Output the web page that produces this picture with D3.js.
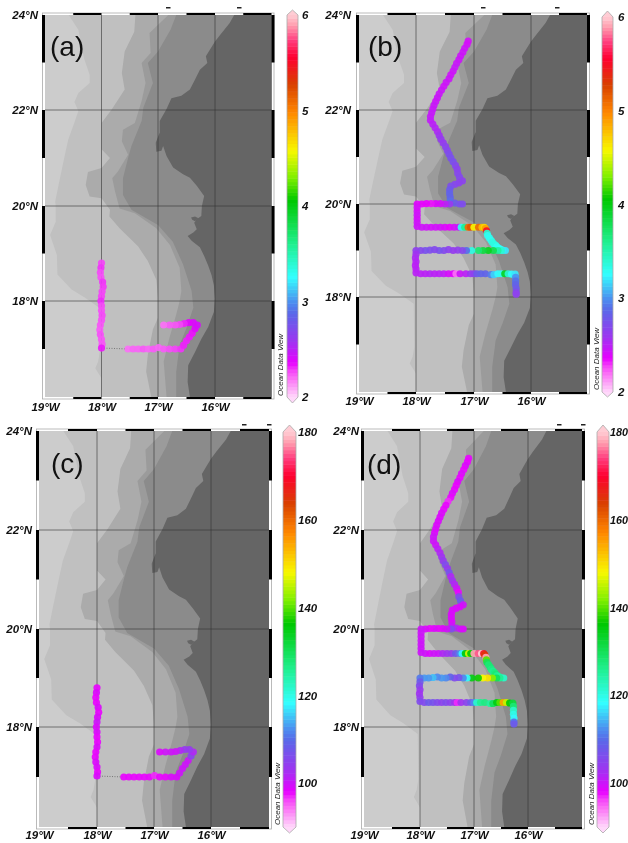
<!DOCTYPE html>
<html>
<head>
<meta charset="utf-8">
<script src="https://cdn.jsdelivr.net/npm/d3@7"></script>
<style>
  body { margin: 0; background: #fff; }
  svg { display: block; filter: blur(0.35px); }
  text { font-family: "Liberation Sans", Arial, sans-serif; }
  .tick text { font-weight: bold; font-style: italic; font-size: 11.5px; fill: #111; }
  .tight .tick text { font-size: 10.8px; }
</style>
</head>
<body>
<script>
var contour1 = [[-18.58,24],[-18.41,23.69],[-18.31,23.09],[-18.21,22.74],[-18.21,22.57],[-18.41,22.36],[-18.48,22.17],[-18.41,21.98],[-18.47,21.77],[-18.59,21.38],[-18.66,21],[-18.76,20.44],[-18.82,20.09],[-18.81,20],[-18.81,19.67],[-18.91,19.39],[-18.79,18.97],[-18.78,18.56],[-18.53,18.24],[-18.29,18.07],[-18.04,17.86],[-18.03,16.95],[-18.06,16.74],[-18.11,16.6],[-18,16.39],[-18,16]];
var contour2 = [[-17.4,24],[-17.42,23.65],[-17.59,23.23],[-17.64,22.78],[-17.59,22.43],[-17.82,22.01],[-18,21.73],[-18,21.18],[-17.85,21],[-18,20.79],[-18.24,20.71],[-18.28,20.44],[-18.21,20.2],[-18,20.16],[-17.85,19.92],[-17.86,19.78],[-17.68,19.53],[-17.35,19.15],[-17.18,18.84],[-17.03,18.45],[-17,18.07],[-17,17.65],[-17.09,17.41],[-17.18,16.88],[-17.21,16.53],[-17.12,16]];
var contour3 = [[-16.82,24],[-17.15,23.62],[-17.13,23.2],[-17.29,22.99],[-17.22,22.57],[-17.29,22.19],[-17.41,21.73],[-17.62,21.59],[-17.64,21.35],[-17.53,21.07],[-17.71,20.72],[-17.81,20.58],[-17.76,20.3],[-17.68,19.95],[-17.41,19.85],[-17.03,19.53],[-16.79,19.18],[-16.62,18.7],[-16.59,18.21],[-16.62,18],[-16.68,17.72],[-16.8,17.23],[-16.9,16.74],[-16.85,16]];
var contour4 = [[-16.68,24],[-16.78,23.69],[-17,23.23],[-17.18,22.99],[-17.09,22.57],[-17.26,22.05],[-17.29,21.77],[-17.47,21.25],[-17.53,21],[-17.62,20.58],[-17.62,20.23],[-17.47,19.92],[-17,19.6],[-16.74,19.25],[-16.56,18.77],[-16.41,18.21],[-16.38,17.86],[-16.5,17.44],[-16.62,17.09],[-16.68,16.53],[-16.68,16]];
var coast = [[-15.66,24],[-15.74,23.83],[-15.91,23.58],[-16,23.44],[-16.09,23.27],[-16.16,23.13],[-16.135,22.99],[-16.265,22.85],[-16.35,22.64],[-16.44,22.43],[-16.59,22.3],[-16.765,22.25],[-16.85,22.02],[-16.97,21.77],[-16.97,21.53],[-17.04,21.32],[-17.03,21.13],[-16.94,21.15],[-16.91,21.25],[-16.85,21.04],[-16.735,20.8],[-16.56,20.66],[-16.44,20.59],[-16.32,20.42],[-16.19,20.21],[-16.23,20],[-16.24,19.79],[-16.32,19.72],[-16.365,19.65],[-16.32,19.51],[-16.38,19.44],[-16.48,19.37],[-16.41,19.27],[-16.265,19.13],[-16.19,18.95],[-16.12,18.75],[-16.06,18.54],[-16.02,18.33],[-16,18.05],[-16.02,17.77],[-16.12,17.46],[-16.24,17.21],[-16.35,16.94],[-16.47,16.66],[-16.48,16.31],[-16.44,16]];
var island = [[-16.42,19.76],[-16.35,19.78],[-16.29,19.74],[-16.35,19.68],[-16.4,19.71]];
var seaGreys = ["#c0c0c0", "#ababab", "#9b9b9b", "#8b8b8b"];
var baseGrey = "#cccccc", landGrey = "#656565";

// southern cruise: lon, lat, value (a), value (c)
var southTrack = [
  [-18,18.8,2.28,98],[-18.01,18.7,2.3,99],[-18.02,18.6,2.27,98],[-18.01,18.5,2.26,98],[-17.98,18.4,2.3,99],
  [-17.97,18.3,2.29,98],[-17.99,18.2,2.28,99],[-18,18.1,2.28,100],[-18.01,18,2.31,99],[-18,17.9,2.27,99],
  [-18,17.8,2.26,98],[-17.99,17.7,2.27,98],[-18,17.6,2.26,99],[-18.02,17.5,2.25,98],[-18.03,17.4,2.24,98],
  [-18.02,17.3,2.26,99],[-18,17.2,2.25,99],[-17.99,17.1,2.25,98],[-18,17.02,2.33,99],
  [-17.53,17,2.2,98],[-17.44,17,2.22,98],[-17.35,17,2.22,98],[-17.26,17,2.24,98],[-17.17,17,2.22,98],
  [-17.08,17,2.24,98],[-16.99,17.03,2.22,97],[-16.9,17,2.24,98],[-16.8,17,2.26,98],[-16.7,17,2.28,99],[-16.6,17,2.3,99],
  [-16.55,17.08,2.32,100],[-16.5,17.17,2.32,100],[-16.45,17.25,2.33,100],[-16.4,17.33,2.34,100],[-16.35,17.42,2.38,105],[-16.31,17.5,2.42,102],
  [-16.38,17.55,2.4,104],[-16.46,17.55,2.38,104],[-16.54,17.53,2.32,102],[-16.62,17.51,2.28,100],[-16.7,17.5,2.25,100],[-16.8,17.5,2.24,100],[-16.9,17.5,2.2,99]
];
var southGap = [[-18,17.02],[-17.75,17.01],[-17.53,17]];

// northern cruise: lon, lat, value (b), value (d)
var northTrack = [
  [-17.1,23.45,2.42,98],[-17.12,23.38,2.42,98],[-17.16,23.3,2.44,99],[-17.19,23.22,2.45,98],[-17.23,23.14,2.45,99],[-17.26,23.06,2.45,98],
  [-17.3,22.98,2.46,99],[-17.33,22.9,2.47,98],[-17.36,22.82,2.45,98],[-17.4,22.74,2.44,99],[-17.43,22.66,2.45,98],[-17.48,22.58,2.45,97],
  [-17.52,22.5,2.44,98],[-17.56,22.42,2.45,98],[-17.6,22.34,2.46,99],[-17.63,22.26,2.46,99],[-17.66,22.18,2.45,99],[-17.69,22.1,2.46,99],
  [-17.71,22.02,2.46,99],[-17.73,21.94,2.47,99],[-17.75,21.86,2.47,100],[-17.75,21.78,2.48,100],[-17.71,21.7,2.5,100],[-17.67,21.62,2.52,101],
  [-17.63,21.54,2.54,102],[-17.6,21.46,2.58,103],[-17.57,21.38,2.62,104],[-17.53,21.3,2.62,106],[-17.49,21.22,2.66,104],[-17.46,21.14,2.68,107],
  [-17.43,21.06,2.72,102],[-17.4,20.98,2.74,103],[-17.36,20.9,2.74,102],[-17.32,20.82,2.7,100],[-17.29,20.74,2.66,98],[-17.28,20.65,2.68,106],
  [-17.25,20.57,2.7,108],[-17.2,20.49,2.66,100],[-17.26,20.45,2.66,99],[-17.33,20.42,2.68,99],[-17.4,20.38,2.72,99],[-17.42,20.3,2.8,99],
  [-17.42,20.22,2.85,99],[-17.41,20.14,2.85,99],[-17.41,20.06,2.9,100],
  [-17.33,20.02,2.8,102],[-17.25,20,2.75,100],[-17.2,20,2.72,99],
  [-17.42,20,2.6,106],[-17.5,20,2.5,100],[-17.58,20.01,2.42,99],[-17.66,20.01,2.4,98],[-17.74,20.01,2.34,99],[-17.82,20.01,2.36,98],[-17.9,20,2.36,99],[-17.98,20,2.38,100],
  [-17.98,19.92,2.42,100],[-17.98,19.84,2.42,100],[-17.98,19.76,2.44,100],[-17.98,19.68,2.42,100],[-17.98,19.6,2.44,100],[-17.98,19.52,2.44,100],
  [-17.9,19.5,2.44,100],[-17.82,19.5,2.44,99],[-17.74,19.5,2.42,100],[-17.66,19.5,2.43,100],[-17.58,19.5,2.42,102],[-17.5,19.5,2.4,103],
  [-17.42,19.5,2.36,104],[-17.34,19.5,2.42,108],[-17.26,19.5,2.45,112],[-17.22,19.5,3.3,118],[-17.16,19.5,3.6,136],[-17.1,19.5,5.1,146],
  [-17.06,19.5,5.2,136],[-17,19.5,4.6,178],[-16.92,19.5,5.1,175],[-16.86,19.5,4.8,180],[-16.82,19.5,4.7,168],[-16.8,19.47,4.9,165],
  [-16.78,19.42,5.5,178],[-16.77,19.37,3.4,140],[-16.76,19.32,3.3,130],[-16.73,19.27,3.3,128],[-16.7,19.22,3.3,128],[-16.68,19.18,3.35,127],
  [-16.65,19.14,3.35,126],[-16.62,19.11,3.35,127],[-16.6,19.08,3.3,128],[-16.57,19.05,3.3,126],[-16.54,19.03,3.25,125],[-16.5,19.01,3.25,124],[-16.45,19,3.2,122],
  [-16.52,19,3.4,126],[-16.58,19,3.55,130],[-16.66,19,3.8,142],[-16.75,19,3.95,150],[-16.84,19,3.85,148],[-16.92,19,3.7,137],
  [-17.04,19,3.35,135],[-17.13,19,2.9,118],[-17.2,19,2.7,112],[-17.28,19.01,2.65,107],[-17.36,19,2.62,106],[-17.44,19.02,2.65,109],
  [-17.52,19,2.7,112],[-17.6,19,2.75,113],[-17.68,19.02,2.7,112],[-17.76,19.01,2.72,115],[-17.84,19,2.75,113],[-17.92,19,2.7,113],[-18,19,2.65,111],
  [-18,18.92,2.58,108],[-18.01,18.84,2.55,106],[-18,18.76,2.52,104],[-18.01,18.68,2.5,103],[-18,18.6,2.5,104],[-18,18.52,2.5,106],
  [-17.92,18.5,2.5,106],[-17.84,18.5,2.5,108],[-17.76,18.5,2.52,107],[-17.68,18.5,2.5,106],[-17.6,18.5,2.5,105],[-17.52,18.5,2.48,106],
  [-17.44,18.5,2.42,105],[-17.36,18.5,2.38,103],[-17.31,18.5,2.2,97],[-17.24,18.5,2.45,103],[-17.14,18.5,2.5,105],[-17.06,18.5,2.6,108],
  [-17,18.5,2.65,112],[-16.95,18.5,2.8,122],[-16.88,18.5,2.85,126],[-16.8,18.5,2.85,127],[-16.7,18.48,2.95,125],[-16.65,18.48,3.15,130],
  [-16.58,18.5,3.25,135],[-16.52,18.5,3.3,140],[-16.46,18.5,3.95,155],[-16.4,18.5,3.4,145],[-16.34,18.49,3.25,136],[-16.28,18.49,3.2,132],
  [-16.27,18.42,3,128],[-16.27,18.34,2.9,122],[-16.27,18.26,2.85,120],[-16.26,18.18,2.8,118],[-16.26,18.1,2.7,110],[-16.26,18.06,2.65,108]
];

// Ocean Data View rainbow, position along the bar and colour
var rampStops = [0, 0.05, 0.07, 0.09, 0.15, 0.22, 0.25, 0.315, 0.4, 0.515, 0.575, 0.645, 0.745, 0.82, 0.89, 0.935, 0.975, 1];
var rampColors = ["#ffd8fa", "#fb70f6", "#f444f8", "#e800ff", "#9a38f0", "#5a68e8", "#4c90f0", "#33ffff", "#20f090", "#00c800", "#80f000", "#f8f800", "#ff8800", "#d84000", "#ff0030", "#ff4080", "#ffa0b0", "#ffccd4"];
var ramp = d3.scaleLinear().domain(rampStops).range(rampColors);

var latTicks = [18, 20, 22, 24];
var lonTicks = [-19, -18, -17, -16];
var oxygenTicks = [2, 3, 4, 5, 6];
var nutrientTicks = [100, 120, 140, 160, 180];
var frameLats = [[24, 23], [22, 21], [20, 19], [18, 17]];
var frameLons = [[-18.5, -18], [-17.5, -17], [-16.5, -16], [-15.5, -15]];

// layout of the four maps, measured in pixels
var panels = [
  { name: "(a)", lonPx: [45, 101.5, 158, 215, 271.5], latPx: [397, 301, 206, 110, 15], track: southTrack, col: 2, gap: true,
    bar: [287, 298, 397, 15, 10, 403], range: [2, 6], barTicks: oxygenTicks, barPad: 4, nameX: 50, nameY: 56, padLeft: 7, padBottom: 6, odv: [283, 396], stubs: [[166, 237], 7] },
  { name: "(b)", lonPx: [359, 416, 474, 531, 587], latPx: [392, 297, 204, 110, 15], track: northTrack, col: 2, gap: false,
    bar: [602, 613, 392, 17, 11, 397], range: [2, 6], barTicks: oxygenTicks, barPad: 5, nameX: 368, nameY: 56, padLeft: 8, padBottom: 5, odv: [599, 390], stubs: [[481, 555], 7] },
  { name: "(c)", lonPx: [39, 97, 154, 211, 269], latPx: [827, 727, 629, 530, 431], track: southTrack, col: 3, gap: true,
    bar: [283, 296, 827, 432, 425, 833], range: [90, 180], barTicks: nutrientTicks, barPad: 2, nameX: 51, nameY: 473, padLeft: 7, padBottom: 4, odv: [280, 825], stubs: [[242, 267], 424] },
  { name: "(d)", lonPx: [364, 420, 474, 528, 582], latPx: [827, 727, 629, 530, 431], track: northTrack, col: 3, gap: false, tight: true,
    bar: [597, 609, 827, 432, 425, 833], range: [90, 180], barTicks: nutrientTicks, barPad: 1, nameX: 367, nameY: 474, padLeft: 5, padBottom: 4, odv: [594, 825], stubs: [[557, 581], 424] }
];

var svg = d3.select("body").append("svg").attr("width", 628).attr("height", 843);

panels.forEach(function (p, i) {
  var x = d3.scaleLinear().domain([-19, -18, -17, -16, -15]).range(p.lonPx);
  var y = d3.scaleLinear().domain([16, 18, 20, 22, 24]).range(p.latPx);
  var line = d3.line().x(function (d) { return x(d[0]); }).y(function (d) { return y(d[1]); });
  var g = svg.append("g");

  var left = x(-19), right = x(-15), top = y(24), bottom = y(16);

  // sea floor and land
  g.append("rect").attr("x", left).attr("y", top).attr("width", right - left).attr("height", bottom - top).attr("fill", baseGrey);
  [contour1, contour2, contour3, contour4].forEach(function (c, j) {
    g.append("path").attr("d", line(c.concat([[-15, 16], [-15, 24]])) + "Z").attr("fill", seaGreys[j]);
  });
  g.append("path").attr("d", line(coast.concat([[-15, 16], [-15, 24]])) + "Z").attr("fill", landGrey);
  g.append("path").attr("d", line(island) + "Z").attr("fill", landGrey);

  // graticule
  [-18, -17, -16].forEach(function (d) {
    g.append("line").attr("x1", x(d)).attr("x2", x(d)).attr("y1", top).attr("y2", bottom)
      .attr("stroke", "#333").attr("stroke-opacity", 0.6);
  });
  [18, 20, 22].forEach(function (d) {
    g.append("line").attr("x1", left).attr("x2", right).attr("y1", y(d)).attr("y2", y(d))
      .attr("stroke", "#333").attr("stroke-opacity", 0.6);
  });

  // chequered map frame
  g.append("rect").attr("x", left - 2.5).attr("y", top - 2).attr("width", right - left + 5).attr("height", bottom - top + 4)
    .attr("fill", "none").attr("stroke", "#aaa").attr("stroke-width", 0.8);
  frameLats.forEach(function (d) {
    [left - 3, right].forEach(function (bx) {
      g.append("rect").attr("x", bx).attr("y", y(d[0])).attr("width", 3).attr("height", y(d[1]) - y(d[0])).attr("fill", "#000");
    });
  });
  frameLons.forEach(function (d) {
    [top - 2, bottom].forEach(function (by) {
      g.append("rect").attr("x", x(d[0])).attr("y", by).attr("width", x(d[1]) - x(d[0])).attr("height", 2).attr("fill", "#000");
    });
  });

  // clipped label tops left over above the frame
  p.stubs[0].forEach(function (sx) {
    g.append("rect").attr("x", sx).attr("y", p.stubs[1]).attr("width", 4.5).attr("height", 1.5).attr("fill", "#222");
  });

  // cruise track
  var t = d3.scaleLinear().domain(p.range).range([0, 1]);
  if (p.gap) {
    g.append("path").attr("d", line(southGap)).attr("fill", "none").attr("stroke", "#777")
      .attr("stroke-width", 1).attr("stroke-dasharray", "1,1.5");
  }
  g.selectAll("circle.dot").data(p.track).enter().append("circle")
    .attr("class", "dot")
    .attr("cx", function (d) { return x(d[0]); })
    .attr("cy", function (d) { return y(d[1]); })
    .attr("r", 3.6)
    .attr("fill", function (d) { return ramp(t(d[p.col])); })
    .attr("fill-opacity", 0.92);

  // axes
  var xAxis = d3.axisBottom(x).tickValues(lonTicks).tickSize(0).tickPadding(p.padBottom)
    .tickFormat(function (d) { return (-d) + "°W"; });
  var yAxis = d3.axisLeft(y).tickValues(latTicks).tickSize(0).tickPadding(p.padLeft)
    .tickFormat(function (d) { return d + "°N"; });
  g.append("g").attr("transform", "translate(0," + bottom + ")").call(xAxis).call(function (s) { s.select(".domain").remove(); });
  g.append("g").attr("transform", "translate(" + left + ",0)").call(yAxis).call(function (s) { s.select(".domain").remove(); });

  g.append("text").attr("x", p.nameX).attr("y", p.nameY).attr("font-size", 28).attr("fill", "#111").text(p.name);

  // colour bar
  var b = p.bar;
  var v = d3.scaleLinear().domain(p.range).range([b[2], b[3]]);
  var bands = d3.range(0, 1, 1 / 110);
  g.selectAll("rect.band").data(bands).enter().append("rect")
    .attr("class", "band")
    .attr("x", b[0]).attr("width", b[1] - b[0])
    .attr("y", function (d) { return v(t.invert(d + 1 / 110)); })
    .attr("height", (b[2] - b[3]) / 110 + 0.5)
    .attr("fill", function (d) { return ramp(d + 0.5 / 110); });
  var mid = (b[0] + b[1]) / 2;
  g.append("path").attr("d", "M" + b[0] + "," + b[3] + "L" + mid + "," + b[4] + "L" + b[1] + "," + b[3] + "Z").attr("fill", ramp(1));
  g.append("path").attr("d", "M" + b[0] + "," + b[2] + "L" + mid + "," + b[5] + "L" + b[1] + "," + b[2] + "Z").attr("fill", ramp(0));
  g.append("path")
    .attr("d", "M" + b[0] + "," + b[3] + "L" + mid + "," + b[4] + "L" + b[1] + "," + b[3] + "V" + b[2] + "L" + mid + "," + b[5] + "L" + b[0] + "," + b[2] + "Z")
    .attr("fill", "none").attr("stroke", "#aaa").attr("stroke-width", 0.8);
  var barAxis = d3.axisRight(v).tickValues(p.barTicks).tickSize(0).tickPadding(p.barPad).tickFormat(d3.format("d"));
  g.append("g").attr("class", p.tight ? "tight" : null).attr("transform", "translate(" + b[1] + ",0)").call(barAxis).call(function (s) { s.select(".domain").remove(); });

  g.append("text")
    .attr("transform", "translate(" + p.odv[0] + "," + p.odv[1] + ") rotate(-90)")
    .attr("font-size", 8).attr("font-style", "italic").attr("fill", "#222")
    .text("Ocean Data View");
});
</script>
</body>
</html>
